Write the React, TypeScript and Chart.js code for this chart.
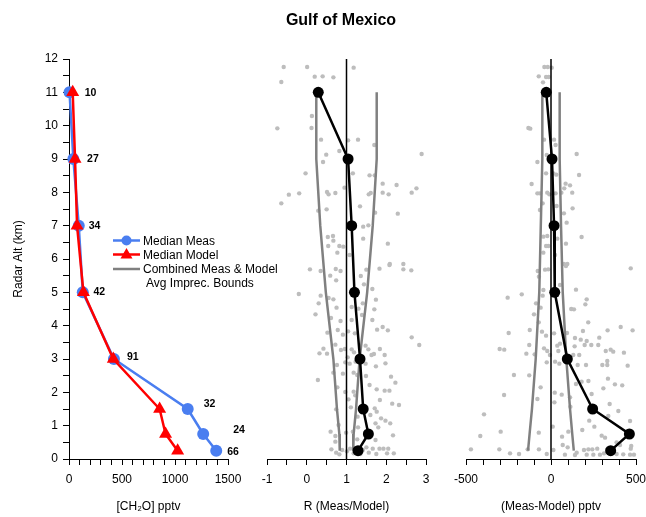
import React, { useEffect, useRef } from "react";
import { Chart, registerables } from "chart.js";

Chart.register(...registerables);

// ---------- DATA ----------
const altitudes = [11, 9, 7, 5, 3, 1.5, 0.75, 0.25];
const medianMeas = [5, 41, 92, 130, 424, 1120, 1266, 1389];
const medianModel = [35, 57, 76, 136, 418, 855, 911, 1025];
const sampleCounts = [10, 27, 34, 42, 91, 32, 24, 66];

const ratioMean = [0.29, 1.04, 1.13, 1.2, 1.34, 1.42, 1.55, 1.29];
const ratioBoundLow = [0.24, 0.24, 0.34, 0.48, 0.67, 0.76, 0.82, 0.83];
const ratioBoundHigh = [1.76, 1.76, 1.66, 1.52, 1.33, 1.24, 1.18, 1.17];

const diffMean = [-28, 6, 18, 22, 96, 245, 461, 351];
const diffBoundLow = [-51, -51, -60, -69, -90, -112, -126, -135];
const diffBoundHigh = [51, 51, 59, 69, 90, 112, 125, 134];

// individual points: [value, altitude km]
const ratioPoints: [number, number][] = [
  [-0.58, 11.76], [0.01, 11.76], [1.18, 11.74], [-0.64, 11.31], [0.2, 11.47], [0.4, 11.48], [0.67, 11.45],
  [0.13, 10.29], [-0.74, 9.92], [0.12, 9.93], [0.36, 9.58], [1.04, 9.56], [1.29, 9.58], [1.7, 9.42],
  [0.82, 9.24], [0.49, 9.13], [2.89, 9.15],
  [0.41, 8.91], [-0.03, 8.57], [1.16, 8.57], [1.58, 8.51], [1.71, 8.51], [1.91, 8.26], [2.26, 8.22],
  [2.76, 8.12], [2.64, 7.99], [-0.45, 7.93], [-0.19, 7.97], [-0.64, 7.67], [0.51, 8.01], [0.55, 7.94],
  [0.72, 7.98], [0.95, 8.14], [1.56, 7.94], [1.61, 7.98], [1.91, 7.99], [2.06, 7.94], [0.29, 7.45],
  [0.5, 7.49], [1.34, 7.58], [1.72, 7.39], [2.29, 7.36], [1.42, 6.97], [1.55, 7.01], [0.53, 6.66],
  [0.66, 6.69], [0.67, 6.55], [1.42, 6.61], [0.54, 6.39], [0.82, 6.39], [0.92, 6.37], [2.04, 6.46],
  [0.77, 6.19], [1.08, 6.12], [2.09, 5.85], [2.43, 5.85],
  [0.08, 5.69], [0.35, 5.64], [0.73, 5.7], [0.85, 5.64], [0.59, 5.5], [1.36, 5.49], [1.5, 5.68],
  [1.83, 5.71], [2.08, 5.82], [2.43, 5.69], [2.63, 5.66], [0.74, 5.36], [1.44, 5.24], [1.65, 5.1],
  [-0.2, 4.95], [0.35, 4.9], [0.55, 4.83], [0.67, 4.79], [0.3, 4.67], [1.41, 4.67], [1.74, 4.78],
  [0.75, 4.54], [1.13, 4.56], [1.3, 4.51], [1.7, 4.49], [0.22, 4.34], [1.39, 4.32], [0.61, 4.23],
  [0.85, 4.14], [1.13, 4.17], [1.65, 4.17], [0.78, 3.87], [0.52, 3.79], [1.04, 3.83], [1.21, 3.77],
  [0.91, 3.73], [1.77, 3.88], [1.91, 3.96], [2.04, 3.86], [2.64, 3.65], [2.83, 3.42], [0.72, 3.43],
  [0.42, 3.31], [0.51, 3.16], [0.32, 3.17], [0.86, 3.27], [0.96, 3.3], [1.13, 3.29], [1.19, 3.2],
  [1.48, 3.4], [1.55, 3.29], [1.69, 3.15], [1.84, 3.3], [1.96, 3.12], [1.63, 3.12], [1.03, 3.05],
  [0.97, 2.9], [1.08, 2.86], [1.23, 2.92], [1.48, 2.86], [1.74, 2.78], [1.98, 2.87], [0.76, 2.82],
  [0.28, 2.37], [0.67, 2.59], [0.91, 2.56], [1.18, 2.59], [1.27, 2.52], [1.49, 2.49], [1.58, 2.22],
  [1.76, 2.09], [1.96, 2.05], [2.08, 2.05], [2.12, 2.47], [2.23, 2.29], [0.77, 2.15], [0.97, 2.01],
  [1.18, 2.02], [1.22, 1.91], [1.05, 1.79], [1.84, 1.77], [2.15, 1.66], [2.32, 1.62], [0.74, 1.49],
  [1.11, 1.55], [1.71, 1.52], [1.76, 1.42], [1.6, 1.32], [1.28, 1.27], [1.87, 1.22], [1.98, 1.15],
  [2.1, 1.07], [1.73, 1.07], [0.8, 1.02], [1.29, 0.95], [1.8, 0.95], [0.6, 0.82], [0.72, 0.69],
  [0.99, 0.79], [1.16, 0.82], [1.27, 0.59], [1.73, 0.57], [2.17, 0.71], [0.72, 0.52],
  [0.62, 0.29], [0.74, 0.19], [0.89, 0.27], [1.01, 0.23], [1.09, 0.31], [1.18, 0.17], [1.41, 0.27],
  [1.5, 0.35], [1.56, 0.19], [1.66, 0.31], [1.75, 0.15], [1.83, 0.31], [1.93, 0.31], [2.05, 0.31],
  [2.02, 0.17], [2.19, 0.17], [0.82, 0.14], [1.35, 0.15],
];

const diffPoints: [number, number][] = [
  [-39, 11.76], [-19, 11.76], [4, 11.74], [-72, 11.48], [-29, 11.46], [-14, 11.46], [-47, 11.3],
  [-133, 9.93], [-122, 9.91], [-41, 9.58], [18, 9.58], [27, 9.42], [-25, 9.12], [151, 9.15],
  [-80, 8.91], [-29, 8.57], [31, 8.53], [14, 8.57], [165, 8.52], [-114, 8.25], [86, 8.26], [112, 8.21],
  [78, 8.12], [-80, 7.97], [-65, 7.97], [-22, 7.99], [-10, 7.94], [27, 7.97], [61, 7.99], [125, 7.99],
  [-49, 7.67], [33, 7.59], [127, 7.52], [-65, 7.47], [76, 7.37], [92, 7.09], [-45, 6.67], [-22, 6.69],
  [37, 6.61], [180, 6.66], [88, 6.46], [-29, 6.39], [-16, 6.39], [-45, 6.19], [24, 6.12], [76, 5.85],
  [96, 5.85],
  [-78, 5.64], [-35, 5.68], [-16, 5.69], [88, 5.79], [469, 5.72], [-71, 5.47], [53, 5.22], [-45, 5.07],
  [147, 5.08], [-255, 4.84], [-172, 4.94], [-49, 4.9], [210, 4.79], [202, 4.64], [-88, 4.67], [-61, 4.54],
  [119, 4.5], [135, 4.49], [-100, 4.34], [-72, 4.1], [219, 4.1], [-249, 3.78], [-125, 3.87], [-53, 3.82],
  [-29, 3.7], [18, 3.77], [94, 3.78], [141, 3.63], [175, 3.58], [188, 3.84], [210, 3.54], [237, 3.42],
  [278, 3.42], [284, 3.64], [333, 3.86], [410, 3.96], [480, 3.86], [-128, 3.42], [-302, 3.3], [-275, 3.28],
  [-41, 3.32], [-22, 3.24], [37, 3.4], [53, 3.46], [139, 3.38], [198, 3.42], [-145, 3.16], [-96, 3.14],
  [-6, 3.12], [43, 3.24], [131, 3.12], [166, 3.12], [322, 3.24], [351, 3.28], [366, 3.22], [429, 3.19],
  [-25, 2.9], [24, 2.92], [49, 2.86], [157, 2.82], [206, 2.82], [302, 2.82], [331, 2.94], [331, 2.82],
  [451, 2.8],
  [-218, 2.52], [-128, 2.51], [-61, 2.15], [-276, 1.92], [-80, 1.8], [22, 1.99], [63, 1.93], [20, 1.7],
  [112, 1.85], [114, 1.57], [147, 2.25], [180, 2.32], [220, 2.34], [239, 1.95], [308, 2.12], [335, 2.41],
  [376, 2.24], [419, 2.21], [345, 1.65], [396, 1.44], [337, 1.29], [465, 1.14], [225, 1.15], [255, 0.97],
  [-394, 1.34], [-296, 0.82], [-416, 0.69], [-72, 0.79], [10, 0.97], [65, 0.67], [102, 0.82], [184, 0.87],
  [298, 0.7], [318, 0.64], [386, 0.5], [406, 0.42], [472, 0.39], [69, 0.42], [98, 0.35], [-471, 0.29],
  [-304, 0.29], [-241, 0.17], [-188, 0.15], [-137, 0.29], [-71, 0.29], [14, 0.27], [82, 0.13], [151, 0.19],
  [194, 0.27], [220, 0.29], [243, 0.29], [272, 0.31], [210, 0.13], [249, 0.13], [288, 0.13], [312, 0.17],
  [386, 0.15], [425, 0.14], [465, 0.13], [488, 0.13], [331, 0.29], [469, 0.31], [141, 0.12], [-25, 0.15],
];

const altTickLabels = [0, 1, 2, 3, 4, 5, 6, 7, 8, 9, 10, 11, 12];
const concTickLabels = [0, 500, 1000, 1500];
const ratioTickLabels = [-1, 0, 1, 2, 3];
const diffTickLabels = [-500, 0, 500];

// ---------- STYLE ----------
const FONT = "'Liberation Sans', Arial, Helvetica, sans-serif";
const W = 646;
const H = 517;
const BLUE = "#4a7ef0";
const RED = "#ff0000";
const BOUND_GRAY = "#808080";
const DOT_GRAY = "#bdbdbd";
const PLOT_TOP = 59;
const PLOT_BOTTOM = 459;
const XAXIS_H = 55;

const hasLabel = (labels: number[], v: number) => labels.some((l) => Math.abs(l - v) < 1e-6);

function xAxis(min: number, max: number, step: number, labels: number[], title: string) {
  return {
    type: "linear",
    position: "bottom",
    min,
    max,
    ticks: {
      stepSize: step,
      autoSkip: false,
      maxRotation: 0,
      color: "#000",
      padding: 7,
      font: { family: FONT, size: 12 },
      callback: (v: number) => (hasLabel(labels, v) ? String(v) : ""),
    },
    grid: {
      display: true,
      drawOnChartArea: false,
      drawTicks: true,
      tickLength: 6,
      color: "#000",
      tickColor: "#000",
      tickWidth: 1,
    },
    border: { display: true, color: "#000", width: 1 },
    title: { display: true, text: title, color: "#000", font: { family: FONT, size: 12 }, padding: 0 },
    afterFit: (s: any) => {
      s.height = XAXIS_H;
      s.paddingLeft = 0;
      s.paddingRight = 0;
    },
  };
}

const hiddenY = {
  type: "linear",
  min: 0,
  max: 12,
  display: false,
};

const shownY = {
  type: "linear",
  position: "left",
  min: 0,
  max: 12,
  ticks: {
    stepSize: 0.5,
    autoSkip: false,
    color: "#000",
    padding: 5,
    font: { family: FONT, size: 12 },
    callback: (v: number) => (hasLabel(altTickLabels, v) ? String(v) : ""),
  },
  grid: {
    display: true,
    drawOnChartArea: false,
    drawTicks: true,
    tickLength: 6,
    color: "#000",
    tickColor: "#000",
    tickWidth: 1,
  },
  border: { display: true, color: "#000", width: 1 },
  title: { display: true, text: "Radar Alt (km)", color: "#000", font: { family: FONT, size: 12 }, padding: 0 },
  afterFit: (s: any) => {
    s.width = 58;
    s.paddingTop = 0;
    s.paddingBottom = 0;
  },
};

function baseOptions(padLeft: number, padRight: number, x: any, y: any) {
  return {
    responsive: false,
    animation: false,
    devicePixelRatio: 1,
    events: [],
    layout: { padding: { left: padLeft, right: padRight, top: PLOT_TOP, bottom: H - PLOT_BOTTOM - XAXIS_H } },
    plugins: { legend: { display: false }, tooltip: { enabled: false }, title: { display: false } },
    scales: { x, y },
  };
}

const pairs = (xs: number[]) => xs.map((v, i) => ({ x: v, y: altitudes[i] }));

// label offsets in pixels relative to the larger of the two medians
const countOffsets: [number, number][] = [
  [12, 1], [12, 0], [10, 0], [10, 0], [13, -2], [16, -5], [30, -4], [11, 1],
];

const countLabelPlugin = {
  id: "countLabels",
  afterDatasetsDraw(chart: any) {
    const { ctx, scales } = chart;
    const xs = scales.x;
    const ys = scales.y;
    ctx.save();
    ctx.font = `bold 10.5px ${FONT}`;
    ctx.fillStyle = "#000";
    ctx.textAlign = "left";
    ctx.textBaseline = "middle";
    altitudes.forEach((a, i) => {
      const px = xs.getPixelForValue(Math.max(medianMeas[i], medianModel[i])) + countOffsets[i][0];
      const py = ys.getPixelForValue(a) + countOffsets[i][1];
      ctx.fillText(String(sampleCounts[i]), px, py);
    });
    ctx.restore();
  },
};

function meanSet(values: number[]) {
  return {
    data: pairs(values),
    showLine: true,
    borderColor: "#000",
    backgroundColor: "#000",
    borderWidth: 2.5,
    pointRadius: 5.5,
    pointBorderWidth: 0,
    clip: false,
  };
}
function boundSet(values: number[]) {
  return {
    data: pairs(values),
    showLine: true,
    borderColor: BOUND_GRAY,
    borderWidth: 2.5,
    pointRadius: 0,
    clip: false,
  };
}
function refLineSet(v: number) {
  return {
    data: [
      { x: v, y: 0 },
      { x: v, y: 12 },
    ],
    showLine: true,
    borderColor: "#000",
    borderWidth: 1.5,
    pointRadius: 0,
    clip: false,
  };
}
function dotSet(points: [number, number][]) {
  return {
    data: points.map(([x, y]) => ({ x, y })),
    showLine: false,
    backgroundColor: DOT_GRAY,
    borderWidth: 0,
    pointRadius: 2.2,
    clip: false,
  };
}

export default function App() {
  const c1 = useRef<HTMLCanvasElement>(null);
  const c2 = useRef<HTMLCanvasElement>(null);
  const c3 = useRef<HTMLCanvasElement>(null);

  useEffect(() => {
    const charts: Chart[] = [];

    charts.push(
      new Chart(c1.current as HTMLCanvasElement, {
        type: "scatter",
        data: {
          datasets: [
            {
              label: "Median Model",
              data: pairs(medianModel),
              showLine: true,
              borderColor: RED,
              backgroundColor: RED,
              borderWidth: 2.5,
              pointStyle: "triangle",
              pointRadius: 7.5,
              pointBorderWidth: 0,
              clip: false,
            },
            {
              label: "Median Meas",
              data: pairs(medianMeas),
              showLine: true,
              borderColor: BLUE,
              backgroundColor: BLUE,
              borderWidth: 2.5,
              pointRadius: 6,
              pointBorderWidth: 0,
              clip: false,
            },
          ],
        },
        options: baseOptions(11, W - 228, xAxis(0, 1500, 100, concTickLabels, "[CH\u2082O] pptv"), shownY) as any,
        plugins: [countLabelPlugin],
      } as any)
    );

    charts.push(
      new Chart(c2.current as HTMLCanvasElement, {
        type: "scatter",
        data: {
          datasets: [
            meanSet(ratioMean),
            refLineSet(1),
            boundSet(ratioBoundLow),
            boundSet(ratioBoundHigh),
            dotSet(ratioPoints),
          ],
        },
        options: baseOptions(267, W - 426, xAxis(-1, 3, 0.5, ratioTickLabels, "R (Meas/Model)"), hiddenY) as any,
      } as any)
    );

    charts.push(
      new Chart(c3.current as HTMLCanvasElement, {
        type: "scatter",
        data: {
          datasets: [
            meanSet(diffMean),
            refLineSet(0),
            boundSet(diffBoundLow),
            boundSet(diffBoundHigh),
            dotSet(diffPoints),
          ],
        },
        options: baseOptions(466, W - 636, xAxis(-500, 500, 100, diffTickLabels, "(Meas-Model) pptv"), hiddenY) as any,
      } as any)
    );

    return () => charts.forEach((c) => c.destroy());
  }, []);

  const canvasStyle: React.CSSProperties = { position: "absolute", left: 0, top: 0, width: W, height: H };
  const textStyle = { fontFamily: FONT, fontSize: 12, fill: "#000" } as const;

  return (
    <div style={{ position: "absolute", left: 0, top: 0, width: W, height: H, background: "#fff", overflow: "hidden" }}>
      <canvas ref={c3} width={W} height={H} style={canvasStyle} />
      <canvas ref={c2} width={W} height={H} style={canvasStyle} />
      <canvas ref={c1} width={W} height={H} style={canvasStyle} />
      <svg width={W} height={H} style={{ position: "absolute", left: 0, top: 0, pointerEvents: "none" }}>
        <text x={341} y={19} textAnchor="middle" dominantBaseline="central" style={{ fontFamily: FONT, fontSize: 16, fontWeight: "bold", fill: "#000" }}>
          Gulf of Mexico
        </text>
        <line x1={113} x2={140} y1={240.5} y2={240.5} stroke={BLUE} strokeWidth={2.5} />
        <circle cx={126.5} cy={240.5} r={5} fill={BLUE} />
        <text x={143} y={240.5} dominantBaseline="central" style={textStyle}>Median Meas</text>
        <line x1={113} x2={140} y1={254.5} y2={254.5} stroke={RED} strokeWidth={2.5} />
        <polygon points="126.5,248 132.5,258.5 120.5,258.5" fill={RED} />
        <text x={143} y={254.5} dominantBaseline="central" style={textStyle}>Median Model</text>
        <line x1={113} x2={140} y1={269} y2={269} stroke={BOUND_GRAY} strokeWidth={2.5} />
        <text x={143} y={269} dominantBaseline="central" style={textStyle}>Combined Meas &amp; Model</text>
        <text x={146} y={283} dominantBaseline="central" style={textStyle}>Avg Imprec. Bounds</text>
      </svg>
    </div>
  );
}
